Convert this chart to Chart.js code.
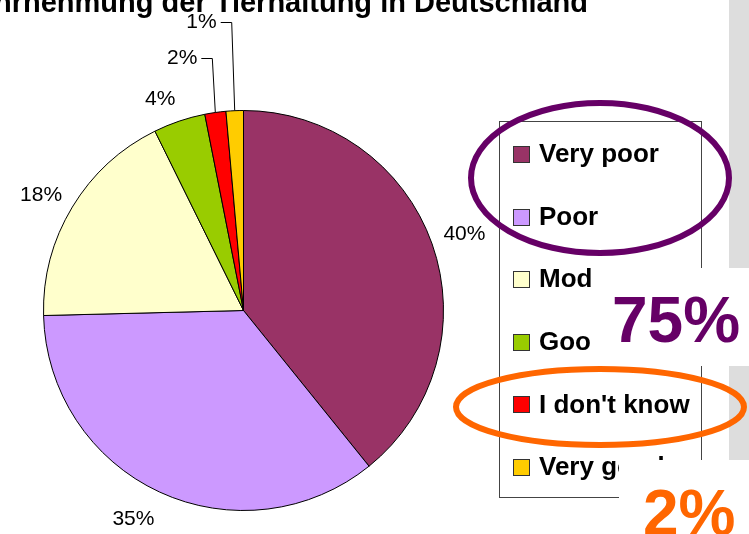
<!DOCTYPE html>
<html>
<head>
<meta charset="utf-8">
<script src="https://cdn.jsdelivr.net/npm/chart.js@4"></script>
<style>
  html, body { margin: 0; padding: 0; background: #fff; }
  #wrap { width: 749px; height: 534px; overflow: hidden; }
</style>
</head>
<body>
<div id="wrap"><canvas id="myChart" width="749" height="534"></canvas></div>
<script>
const title = "Wahrnehmung der Tierhaltung in Deutschland";
const categories = ["Very poor", "Poor", "Moderate", "Good", "I don't know", "Very good"];
const shares = [39.2, 35.4, 18.1, 4.2, 1.7, 1.4];
const shareLabels = ["40%", "35%", "18%", "4%", "2%", "1%"];
const sumNegative = "75%"; // Very poor + Poor
const sumUnknown = "2%";   // I don't know
const colors = ["#993366", "#CC99FF", "#FFFFCC", "#99CC00", "#FF0000", "#FFCC00"];

const FONT = "'Liberation Sans', Arial, sans-serif";
const leaderLen = [54, 89]; // leader line lengths for the tiny slices

// white background + cut-off title
const backdrop = {
    id: "backdrop",
    beforeDraw(chart) {
        const c = chart.ctx;
        c.save();
        c.fillStyle = "#fff";
        c.fillRect(0, 0, chart.width, chart.height);
        c.restore();
    },
    afterDraw(chart) {
        const c = chart.ctx;
        c.save();
        c.font = "bold 29px " + FONT;
        c.fillStyle = "#000";
        c.textAlign = "right";
        c.textBaseline = "alphabetic";
        c.fillText(title, 588, 12);
        c.restore();
    }
};

// percentage labels next to the slices
const pctLabels = {
    id: "pctLabels",
    afterDatasetsDraw(chart) {
        const c = chart.ctx;
        const arcs = chart.getDatasetMeta(0).data;
        c.save();
        c.font = "21px " + FONT;
        c.fillStyle = "#000";
        c.strokeStyle = "#000";
        c.lineWidth = 1;
        let k = 0;
        arcs.forEach((arc, i) => {
            const p = arc.getProps(["x", "y", "startAngle", "endAngle", "outerRadius"], true);
            const a = (p.startAngle + p.endAngle) / 2;
            const cos = Math.cos(a), sin = Math.sin(a);
            if (shares[i] < 3) {
                // small slices get a leader line
                const x0 = p.x + p.outerRadius * cos, y0 = p.y + p.outerRadius * sin;
                const y1 = Math.round(y0 - leaderLen[k++]) + 0.5;
                c.beginPath();
                c.moveTo(x0, y0);
                c.lineTo(x0 - 3, y1);
                c.lineTo(x0 - 14, y1);
                c.stroke();
                c.textAlign = "right";
                c.textBaseline = "middle";
                c.fillText(shareLabels[i], x0 - 18, y1);
            } else {
                const d = p.outerRadius + 12;
                let x = p.x + d * cos, y = p.y + d * sin;
                c.textAlign = cos >= 0 ? "left" : "right";
                if (sin > 0.8) { c.textBaseline = "top"; y += 6; }
                else if (sin < -0.8) c.textBaseline = "bottom";
                else { c.textBaseline = "middle"; y -= 6; }
                c.fillText(shareLabels[i], x, y);
            }
        });
        c.restore();
    }
};

// legend box on the right
const boxLegend = {
    id: "boxLegend",
    afterDraw(chart) {
        const c = chart.ctx;
        const ds = chart.data.datasets[0];
        c.save();
        c.fillStyle = "#fff";
        c.fillRect(499.5, 121.5, 202, 376);
        c.strokeStyle = "#444";
        c.lineWidth = 1;
        c.strokeRect(499.5, 121.5, 202, 376);
        c.font = "bold 26px " + FONT;
        c.textAlign = "left";
        c.textBaseline = "middle";
        chart.data.labels.forEach((lab, i) => {
            const y = 154 + i * 62.6;
            c.fillStyle = ds.backgroundColor[i];
            c.fillRect(513.5, Math.round(y - 8) + 0.5, 16, 16);
            c.strokeStyle = "#333";
            c.strokeRect(513.5, Math.round(y - 8) + 0.5, 16, 16);
            c.fillStyle = "#000";
            c.fillText(lab, 539, y + 1);
        });
        c.restore();
    }
};

// slide annotations drawn over the chart
const annotations = {
    id: "annotations",
    afterDraw(chart) {
        const c = chart.ctx;
        c.save();
        // grey panels at the right edge
        c.fillStyle = "#DDDDDD";
        c.fillRect(729, 0, 20, 268);
        c.fillRect(729, 366, 20, 94);
        // white boxes that hide part of the legend
        c.fillStyle = "#fff";
        c.fillRect(592, 268, 157, 98);
        c.fillRect(619, 460, 130, 74);
        // ellipses
        c.lineWidth = 6;
        c.strokeStyle = "#660066";
        c.beginPath();
        c.ellipse(600, 178, 129, 75, 0, 0, Math.PI * 2);
        c.stroke();
        c.strokeStyle = "#FF6600";
        c.beginPath();
        c.ellipse(600, 407, 144, 38, 0, 0, Math.PI * 2);
        c.stroke();
        // big sums
        c.font = "bold 64px " + FONT;
        c.textAlign = "left";
        c.textBaseline = "alphabetic";
        c.fillStyle = "#660066";
        c.fillText(sumNegative, 612, 342);
        c.fillStyle = "#FF6600";
        c.fillText(sumUnknown, 643, 535);
        c.restore();
    }
};

new Chart(document.getElementById("myChart"), {
    type: "pie",
    data: {
        labels: categories,
        datasets: [{
            data: shares,
            backgroundColor: colors,
            borderColor: "#000",
            borderWidth: 1
        }]
    },
    options: {
        responsive: false,
        animation: false,
        devicePixelRatio: 1,
        events: [],
        layout: {
            padding: { left: 43, right: 305, top: 110, bottom: 23 }
        },
        plugins: {
            legend: { display: false },
            tooltip: { enabled: false },
            title: { display: false }
        }
    },
    plugins: [backdrop, pctLabels, boxLegend, annotations]
});
</script>
</body>
</html>
